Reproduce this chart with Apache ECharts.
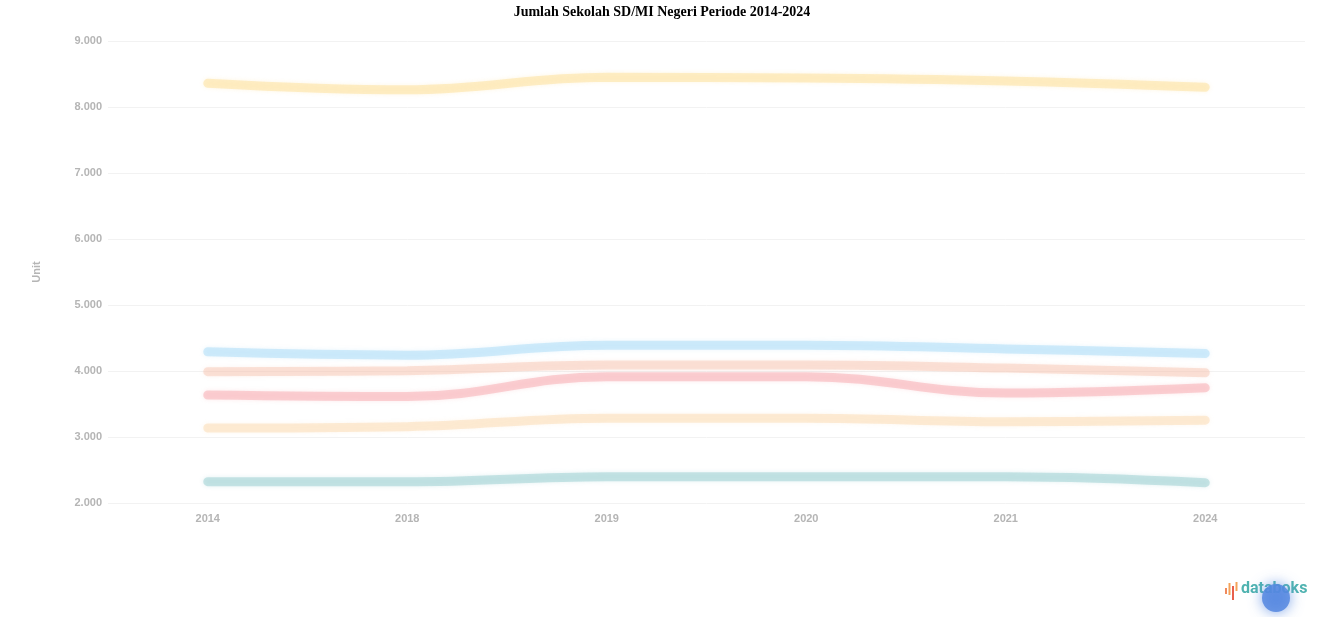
<!DOCTYPE html>
<html>
<head>
<meta charset="utf-8">
<script src="https://cdn.jsdelivr.net/npm/echarts@6/dist/echarts.min.js"></script>
<style>
html,body{margin:0;padding:0;background:#fff;}
#c{width:1324px;height:617px;}
</style>
</head>
<body>
<div id="c"></div>
<script>
var categories = ['2014', '2018', '2019', '2020', '2021', '2024'];
var seriesNames = ['Seri 1', 'Seri 2', 'Seri 3', 'Seri 4', 'Seri 5', 'Seri 6'];
var s1 = [8360, 8260, 8450, 8440, 8395, 8300];
var s2 = [4290, 4240, 4390, 4390, 4335, 4265];
var s3 = [3990, 4005, 4090, 4090, 4045, 3975];
var s4 = [3636, 3612, 3914, 3914, 3665, 3745];
var s5 = [3136, 3157, 3285, 3285, 3232, 3255];
var s6 = [2323, 2323, 2399, 2399, 2399, 2308];
var yTicks = [2000, 3000, 4000, 5000, 6000, 7000, 8000, 9000];

var colors = ['rgba(253,226,160,0.55)', 'rgba(170,220,248,0.5)', 'rgba(247,196,176,0.45)', 'rgba(247,170,175,0.5)', 'rgba(251,214,170,0.45)', 'rgba(160,210,212,0.55)'];
var allData = [s1, s2, s3, s4, s5, s6];

var chart = echarts.init(document.getElementById('c'));
var series = allData.map(function (d, i) {
  return {
    name: seriesNames[i],
    type: 'line',
    data: d,
    smooth: 0.4,
    symbol: 'none',
    lineStyle: { width: 9, color: colors[i], cap: 'round', shadowBlur: 4, shadowColor: colors[i] },
    itemStyle: { color: colors[i] }
  };
});

chart.setOption({
  animation: false,
  title: {
    text: 'Jumlah Sekolah SD/MI Negeri Periode 2014-2024',
    left: 'center',
    top: 0,
    textStyle: { fontFamily: 'Liberation Serif', fontWeight: 'bold', fontSize: 14, color: '#000' }
  },
  grid: { left: 108, right: 19, top: 41, bottom: 114 },
  xAxis: {
    type: 'category',
    data: categories,
    boundaryGap: true,
    axisLine: { show: false },
    axisTick: { show: false },
    axisLabel: { color: '#b5b5b5', fontSize: 11, margin: 10, fontFamily: 'Liberation Sans', fontWeight: 'bold' }
  },
  yAxis: {
    type: 'value',
    min: yTicks[0],
    max: yTicks[yTicks.length - 1],
    interval: 1000,
    name: 'Unit',
    nameLocation: 'middle',
    nameGap: 66,
    nameTextStyle: { color: '#b5b5b5', fontSize: 11, fontWeight: 'bold' },
    axisLine: { show: false },
    axisTick: { show: false },
    axisLabel: {
      color: '#b5b5b5', fontSize: 11, margin: 6, fontFamily: 'Liberation Sans', fontWeight: 'bold',
      formatter: function (v) { return v.toLocaleString('de-DE'); }
    },
    splitLine: { lineStyle: { color: '#f2f2f2', width: 1 } }
  },
  series: series,
  graphic: [
    { type: 'rect', shape: { x: 1225, y: 588, width: 2, height: 6 }, style: { fill: '#f08a5d' } },
    { type: 'rect', shape: { x: 1228.5, y: 583, width: 2, height: 12 }, style: { fill: '#f4a259' } },
    { type: 'rect', shape: { x: 1232, y: 586, width: 2, height: 14 }, style: { fill: '#e8604c' } },
    { type: 'rect', shape: { x: 1235.5, y: 582, width: 2, height: 9 }, style: { fill: '#f4a259' } },
    { type: 'text', left: 1241, top: 581, style: { text: 'databoks', fill: '#4fb3b0', font: 'bold 16px Roboto' } },
    { type: 'circle', shape: { cx: 1276, cy: 598, r: 14 }, style: { fill: 'rgba(85,135,225,0.85)', shadowBlur: 14, shadowColor: 'rgba(85,135,225,0.9)' } }
  ]
});
</script>
</body>
</html>
